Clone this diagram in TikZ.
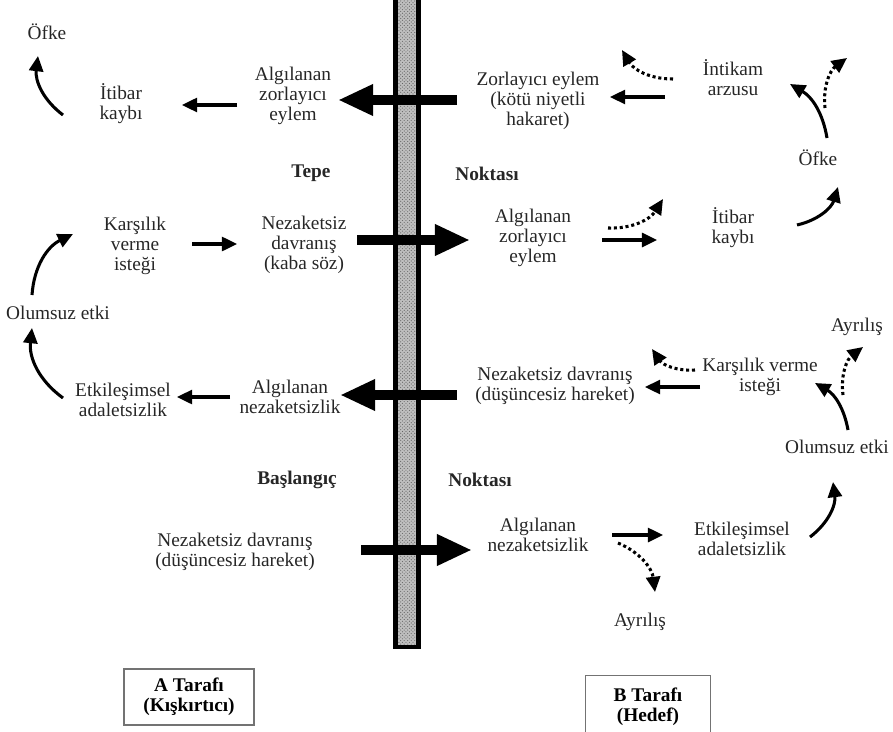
\documentclass[tikz,border=0pt]{standalone}
\usepackage{fontspec}
\setmainfont{Liberation Serif}
\usetikzlibrary{arrows.meta,patterns}

\begin{document}
\begin{tikzpicture}[x=0.03cm,y=-0.03cm,
    txt/.style={align=center,inner sep=0pt,text=black!85,font=\fontsize{16.5}{17}\selectfont},
    bold/.style={txt,font=\fontsize{16.5}{17}\selectfont\bfseries},
    side/.style={bold,draw=black!55,line width=0.9pt,text=black,minimum height=47.8pt},
    arr/.style={line width=2.6pt,-{Triangle[length=13pt,width=12pt]}},
    dotarr/.style={arr,dash pattern=on 2.6pt off 2.4pt},
    big/.style={line width=8.5pt,-{Triangle[length=30pt,width=25pt]}}]
  \useasboundingbox (0,0) rectangle (893,732);
  \clip (0,0) rectangle (893,732);

  \node[draw,line width=3.8pt,minimum width=20pt,minimum height=555pt,inner sep=0pt,
    preaction={fill=black!25},pattern=crosshatch dots,pattern color=black!60] (bar) at (407,322) {};

  \node[txt] (ofkeA) at (47,32) {Öfke};
  \node[txt] (itibarA) at (121,104) {İtibar\\kaybı};
  \node[txt] (alzA) at (293,96) {Algılanan\\zorlayıcı\\eylem};
  \node[bold] (tepe) at (311,173) {Tepe};
  \node[txt] (karsA) at (135,246) {Karşılık\\verme\\isteği};
  \node[txt] (nezA) at (304,245) {Nezaketsiz\\davranış\\(kaba söz)};
  \node[txt] (olumA) at (58,313) {Olumsuz etki};
  \node[txt] (etkA) at (123,400) {Etkileşimsel\\adaletsizlik};
  \node[txt] (alnA) at (290,397) {Algılanan\\nezaketsizlik};
  \node[bold] (baslangic) at (297,480) {Başlangıç};
  \node[txt] (nezdA) at (235,552) {Nezaketsiz davranış\\(düşüncesiz hareket)};
  \node[side,minimum width=111pt] (tarafA) at (189,697) {A Tarafı\\(Kışkırtıcı)};

  \node[txt] (zorB) at (538,101) {Zorlayıcı eylem\\(kötü niyetli\\hakaret)};
  \node[txt] (intikamB) at (733,78) {İntikam\\arzusu};
  \node[txt] (ofkeB) at (818,158) {Öfke};
  \node[bold] (noktasiB1) at (487,174) {Noktası};
  \node[txt] (alzB) at (533,238) {Algılanan\\zorlayıcı\\eylem};
  \node[txt] (itibarB) at (733,228) {İtibar\\kaybı};
  \node[txt] (ayrilisB1) at (857,327) {Ayrılış};
  \node[txt] (karsB) at (760,377) {Karşılık verme\\isteği};
  \node[txt] (nezdB) at (555,386) {Nezaketsiz davranış\\(düşüncesiz hareket)};
  \node[txt] (olumB) at (837,447) {Olumsuz etki};
  \node[bold] (noktasiB2) at (480,480) {Noktası};
  \node[txt] (alnB) at (538,535) {Algılanan\\nezaketsizlik};
  \node[txt] (etkB) at (742,539) {Etkileşimsel\\adaletsizlik};
  \node[txt] (ayrilisB2) at (640,622) {Ayrılış};
  \node[side,minimum width=106.7pt,minimum height=53pt] (tarafB) at (648,707) {B Tarafı\\(Hedef)};

  \coordinate (barA1) at (457,100);
  \coordinate (barB1) at (357,240);
  \coordinate (barA2) at (457,395);
  \coordinate (barB2) at (361,550);
  \coordinate (intikamOut) at (622,50);
  \coordinate (ofkeOut) at (847,58);
  \coordinate (alzOut) at (663,199);
  \coordinate (karsOut) at (652,349);

  \draw[big] (barA1) -- ([shift={(45,4)}]alzA.center);
  \draw[big] (barB1) -- ([shift={(-63,2)}]alzB.center);
  \draw[big] (barA2) -- ([shift={(50,-2)}]alnA.center);
  \draw[big] (barB2) -- ([shift={(-66,15)}]alnB.center);

  \draw[arr] ([shift={(-56,9)}]alzA.center) -- ([shift={(61,1)}]itibarA.center);
  \draw[arr] ([shift={(-58,11)}]itibarA.center) to[bend left=30] ([shift={(-9,24)}]ofkeA.center);
  \draw[arr] ([shift={(57,-2)}]karsA.center) -- ([shift={(-67,-1)}]nezA.center);
  \draw[arr] ([shift={(-26,-18)}]olumA.center) to[bend left=30] ([shift={(-62,-12)}]karsA.center);
  \draw[arr] ([shift={(-60,-2)}]etkA.center) to[bend left=30] ([shift={(-26,15)}]olumA.center);
  \draw[arr] ([shift={(-60,0)}]alnA.center) -- ([shift={(54,-3)}]etkA.center);

  \draw[arr] ([shift={(-68,19)}]intikamB.center) -- ([shift={(72,-4)}]zorB.center);
  \draw[dotarr] ([shift={(-60,1)}]intikamB.center) to[bend left=30] (intikamOut);
  \draw[arr] ([shift={(9,-20)}]ofkeB.center) to[bend right=25] ([shift={(57,6)}]intikamB.center);
  \draw[dotarr] ([shift={(7,-50)}]ofkeB.center) to[bend left=30] (ofkeOut);
  \draw[arr] ([shift={(69,2)}]alzB.center) -- ([shift={(-76,12)}]itibarB.center);
  \draw[dotarr] ([shift={(75,-10)}]alzB.center) to[bend right=30] (alzOut);
  \draw[arr] ([shift={(64,-3)}]itibarB.center) to[bend right=30] ([shift={(20,29)}]ofkeB.center);
  \draw[dotarr] ([shift={(-65,-7)}]karsB.center) to[bend left=30] (karsOut);
  \draw[arr] ([shift={(-60,10)}]karsB.center) -- ([shift={(90,1)}]nezdB.center);
  \draw[arr] ([shift={(11,-17)}]olumB.center) to[bend right=25] ([shift={(55,6)}]karsB.center);
  \draw[dotarr] ([shift={(6,-52)}]olumB.center) to[bend left=30] ([shift={(6,20)}]ayrilisB1.center);
  \draw[arr] ([shift={(74,0)}]alnB.center) -- ([shift={(-79,-4)}]etkB.center);
  \draw[dotarr] ([shift={(80,8)}]alnB.center) to[bend left=30] ([shift={(15,-30)}]ayrilisB2.center);
  \draw[arr] ([shift={(68,-2)}]etkB.center) to[bend right=30] ([shift={(-4,35)}]olumB.center);
\end{tikzpicture}
\end{document}
